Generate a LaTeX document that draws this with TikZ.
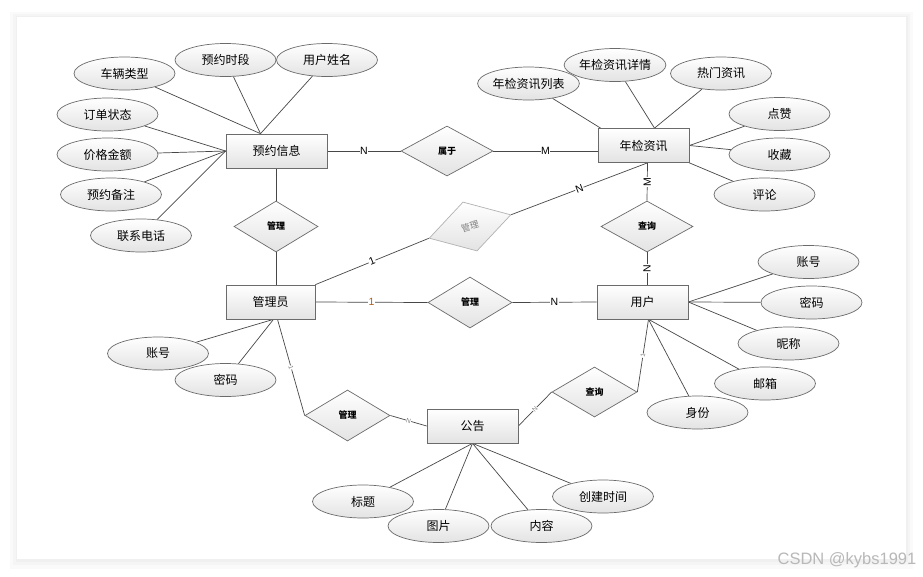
\documentclass[tikz,border=0pt]{standalone}
\usepackage{fontspec}
\setmainfont{Liberation Sans}
\newfontfamily\cjk{Noto Sans CJK SC}
\usetikzlibrary{shapes.geometric}
\pgfdeclarelayer{bg}
\pgfdeclarelayer{ln}
\pgfsetlayers{bg,ln,main}
\tikzset{
  ent/.style={draw=black!58, line width=0.7pt, top color=white, bottom color=black!11, minimum width=91pt, minimum height=34pt, inner sep=0pt, font=\cjk\fontsize{12}{12}\selectfont},
  attr/.style={ellipse, draw=black!58, line width=0.7pt, top color=white, bottom color=black!11, minimum width=101pt, minimum height=33pt, inner sep=0pt, font=\cjk\fontsize{12}{12}\selectfont},
  rel/.style={diamond, draw=black!58, line width=0.7pt, top color=white, bottom color=black!11, minimum width=84pt, minimum height=51pt, inner sep=0pt, font=\cjk\bfseries\fontsize{9}{9}\selectfont},
  grayrel/.style={draw=black!30, text=black!50, font=\cjk\fontsize{9}{9}\selectfont},
  conn/.style={draw=black!72, line width=0.7pt},
  lab/.style={fill=white, inner sep=0.6pt, font=\fontsize{10.5}{10.5}\selectfont},
  slab/.style={fill=white, inner sep=0.3pt, text=black!50, font=\fontsize{6.5}{6.5}\selectfont}
}
\begin{document}
\begin{tikzpicture}[x=1pt,y=-1pt]
\useasboundingbox (0,0) rectangle (923,576);
\begin{pgfonlayer}{bg}
\fill[black!2] (10,12) rectangle (913,569);
\fill[black!4] (13,14) rectangle (910,565);
\fill[black!6] (15.5,16) rectangle (907.5,561.5);
\fill[white] (17,17) rectangle (906,559);
\end{pgfonlayer}

% entities
\node[ent, minimum width=101pt] (yy) at (276.5,151) {预约信息};
\node[ent] (nj) at (643.5,145.5) {年检资讯};
\node[ent, minimum width=89pt] (gly) at (270.5,302) {管理员};
\node[ent] (yh) at (642.5,302) {用户};
\node[ent] (gg) at (472.5,426) {公告};

% relationships
\node[rel, minimum width=92pt, minimum height=50pt] (sy) at (447,151) {属于};
\node[rel] (gl1) at (276,226.5) {管理};
\node[rel, grayrel, rotate=16, minimum width=85pt] (gl2) at (470,226.5) {管理};
\node[rel, minimum width=92pt] (cx1) at (647,226.5) {查询};
\node[rel] (gl3) at (470,302.5) {管理};
\node[rel, minimum width=85pt] (gl4) at (347.5,415.5) {管理};
\node[rel, minimum width=85pt, minimum height=50pt] (cx2) at (594.5,392) {查询};

% attributes of 预约信息
\node[attr] (a1) at (124.5,73.5) {车辆类型};
\node[attr] (a2) at (225.5,60) {预约时段};
\node[attr] (a3) at (327,60) {用户姓名};
\node[attr] (a4) at (107.5,114.5) {订单状态};
\node[attr] (a5) at (107.5,154.5) {价格金额};
\node[attr] (a6) at (111,194.5) {预约备注};
\node[attr] (a7) at (141,235.5) {联系电话};
% attributes of 年检资讯
\node[attr] (b1) at (528.5,83.5) {年检资讯列表};
\node[attr] (b2) at (615,65) {年检资讯详情};
\node[attr] (b3) at (721,73.5) {热门资讯};
\node[attr] (b4) at (779.5,114) {点赞};
\node[attr] (b5) at (779.5,154.5) {收藏};
\node[attr] (b6) at (764.5,194.5) {评论};
% attributes of 用户
\node[attr] (c1) at (808.5,262) {账号};
\node[attr] (c2) at (811.5,302.5) {密码};
\node[attr] (c3) at (788.5,343.5) {昵称};
\node[attr] (c4) at (765,383.5) {邮箱};
\node[attr] (c5) at (697.5,412.5) {身份};
% attributes of 管理员
\node[attr] (d1) at (158,353.5) {账号};
\node[attr] (d2) at (225.5,380) {密码};
% attributes of 公告
\node[attr] (e1) at (363,501.5) {标题};
\node[attr] (e2) at (438.5,526) {图片};
\node[attr] (e3) at (541.5,526) {内容};
\node[attr] (e4) at (603,496.5) {创建时间};

\begin{pgfonlayer}{ln}
\draw[conn] (a1) -- ([xshift=-16pt]yy.north);
\draw[conn] (a2) -- ([xshift=-16pt]yy.north);
\draw[conn] (a3) -- ([xshift=-16pt]yy.north);
\draw[conn] (a4) -- (yy.west);
\draw[conn] (a5) -- (yy.west);
\draw[conn] (a6) -- (yy.west);
\draw[conn] (a7) -- (yy.west);

\draw[conn] (b1) -- ([xshift=3pt]nj.north west);
\draw[conn] (b2) -- ([xshift=11pt]nj.north);
\draw[conn] (b3) -- ([xshift=11pt]nj.north);
\draw[conn] (b4) -- (nj.east);
\draw[conn] (b5) -- (nj.east);
\draw[conn] (b6) -- (nj.south east);

\draw[conn] (c1) -- (yh.east);
\draw[conn] (c2) -- (yh.east);
\draw[conn] (c3) -- (yh.east);
\draw[conn] (c4) -- ([xshift=6pt]yh.south);
\draw[conn] (c5) -- ([xshift=6pt]yh.south);

\draw[conn] (d1) -- ([xshift=3pt]gly.south);
\draw[conn] (d2) -- ([xshift=3pt]gly.south);

\draw[conn] (e1) -- (gg.south);
\draw[conn] (e2) -- (gg.south);
\draw[conn] (e3) -- (gg.south);
\draw[conn] (e4) -- (gg.south);

\draw[conn] (yy.east) -- node[lab]{N} (sy.west);
\draw[conn] (sy.east) -- node[lab]{M} (nj.west |- sy.east);
\draw[conn] (yy.south -| gl1.north) -- (gl1.north);
\draw[conn] (gl1.south) -- (gl1.south |- gly.north);
\draw[conn] (gly.north east) -- node[lab, sloped]{1} (gl2.west);
\draw[conn] (gl2.east) -- node[lab, sloped]{N} ([xshift=4pt]nj.south);
\draw[conn] ([xshift=4pt]nj.south) -- node[lab, rotate=90]{M} (cx1.north);
\draw[conn] (cx1.south) -- node[lab, rotate=90]{N} (cx1.south |- yh.north);
\draw[conn] (gly.east) -- node[lab, text={rgb,255:red,176;green,96;blue,16}]{1} (gl3.west);
\draw[conn] (gl3.east) -- node[lab]{N} (yh.west);
\draw[conn] ([xshift=7pt]gly.south) -- node[slab, sloped]{1} (gl4.west);
\draw[conn] (gl4.east) -- node[slab, sloped]{N} (gg.west);
\draw[conn] (gg.east) -- node[slab, sloped]{N} (cx2.west);
\draw[conn] (cx2.east) -- node[slab, sloped]{1} ([xshift=6pt]yh.south);
\end{pgfonlayer}

\node[text=black!28, font=\fontsize{16.5}{16.5}\selectfont, inner sep=0pt] (wm) at (847,560) {CSDN @kybs1991};
\end{tikzpicture}
\end{document}
